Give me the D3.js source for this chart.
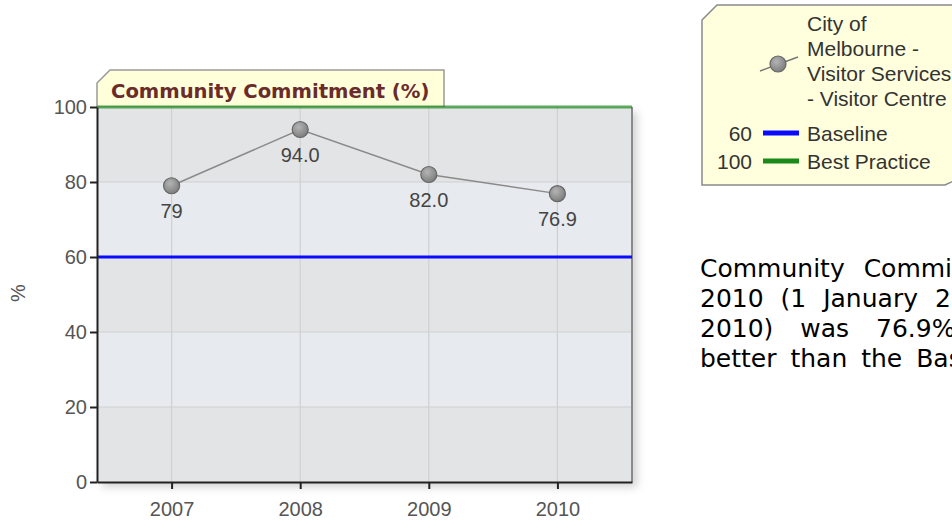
<!DOCTYPE html>
<html>
  <head>
    <meta charset="utf-8">
    <title>Community Commitment (%)</title>
    <script src="https://cdn.jsdelivr.net/npm/d3@7"></script>
    <style>
      body { margin: 0; overflow: hidden; background: #fff; }
      svg { display: block; }
      .axis text { font-family: "Liberation Sans", Arial, sans-serif; font-size: 20px; fill: #555; }
      .axis path, .axis line { stroke: #222; stroke-width: 2; }
    </style>
  </head>
  <body>
    <svg id="chart" width="952" height="521">
      <defs>
        <radialGradient id="ball" cx="40%" cy="35%" r="70%">
          <stop offset="0%" stop-color="#b4b4b4"></stop>
          <stop offset="100%" stop-color="#7a7a7a"></stop>
        </radialGradient>
        <filter id="shadow" x="-5%" y="-5%" width="115%" height="115%">
          <feDropShadow dx="5" dy="5" stdDeviation="4" flood-color="#000" flood-opacity="0.18"></feDropShadow>
        </filter>
      </defs>
    </svg>

    <script>
      // data
      var years = ["2007", "2008", "2009", "2010"];
      var scores = [79, 94.0, 82.0, 76.9];
      var scoreLabels = ["79", "94.0", "82.0", "76.9"];
      var yTicks = [0, 20, 40, 60, 80, 100];
      var targetNames = ["Baseline", "Best Practice"];
      var targetValues = [60, 100];
      var targetColours = ["#0a0aff", "#1a8a1a"];
      var seriesName = ["City of", "Melbourne -", "Visitor Services", "- Visitor Centre"];
      var summary = [
        "Community Commitment score for",
        "2010 (1 January 2010 to 31 December",
        "2010) was 76.9%, which was",
        "better than the Baseline (60%)."
      ];

      // layout
      var plot = { left: 97, right: 632, top: 107, bottom: 482 };
      var justify = [11, 9, 19, 6]; // word gaps of the justified paragraph lines
      var chart = d3.select("#chart");

      var x = d3.scalePoint()
        .domain(years)
        .range([plot.left, plot.right])
        .padding(0.58);
      var y = d3.scaleLinear()
        .domain([0, 100])
        .range([plot.bottom, plot.top]);

      // title tab
      chart.append("path")
        .attr("d", "M" + plot.left + "," + plot.top + "V83L110,70H444V" + plot.top + "Z")
        .attr("fill", "#ffffd9")
        .attr("stroke", "#9a9a9a")
        .attr("stroke-width", 1.5);
      chart.append("text")
        .attr("x", 111)
        .attr("y", 98)
        .attr("font-family", "DejaVu Sans, Verdana, sans-serif")
        .attr("font-weight", "bold")
        .attr("font-size", 19.6)
        .attr("fill", "#6b2b2b")
        .text("Community Commitment (%)");

      // plot background with alternating bands
      chart.append("rect")
        .attr("x", plot.left)
        .attr("y", plot.top)
        .attr("width", plot.right - plot.left)
        .attr("height", plot.bottom - plot.top)
        .attr("fill", "#e3e4e6")
        .attr("filter", "url(#shadow)");
      chart.append("g")
        .selectAll("rect")
        .data(d3.pairs(yTicks))
        .enter().append("rect")
          .attr("x", plot.left)
          .attr("width", plot.right - plot.left)
          .attr("y", function(d) { return y(d[1]); })
          .attr("height", function(d) { return y(d[0]) - y(d[1]); })
          .attr("fill", function(d, i) { return i % 2 ? "#e7eaee" : "#e3e4e6"; });

      // grid
      chart.append("g")
        .selectAll("line")
        .data(yTicks.slice(1, -1))
        .enter().append("line")
          .attr("x1", plot.left)
          .attr("x2", plot.right)
          .attr("y1", function(d) { return y(d); })
          .attr("y2", function(d) { return y(d); })
          .attr("stroke", "#d0d0d0")
          .attr("stroke-width", 1.2);
      chart.append("g")
        .selectAll("line")
        .data(years)
        .enter().append("line")
          .attr("x1", function(d) { return x(d); })
          .attr("x2", function(d) { return x(d); })
          .attr("y1", plot.top)
          .attr("y2", plot.bottom)
          .attr("stroke", "#d0d0d0")
          .attr("stroke-width", 1.2);

      // right border
      chart.append("line")
        .attr("x1", plot.right)
        .attr("x2", plot.right)
        .attr("y1", plot.top)
        .attr("y2", plot.bottom)
        .attr("stroke", "#8a8a8a")
        .attr("stroke-width", 2);

      // target lines
      chart.append("g")
        .selectAll("line")
        .data(targetValues)
        .enter().append("line")
          .attr("x1", plot.left)
          .attr("x2", plot.right)
          .attr("y1", function(d) { return y(d); })
          .attr("y2", function(d) { return y(d); })
          .attr("stroke", function(d, i) { return targetColours[i]; })
          .attr("stroke-opacity", function(d, i) { return i ? 0.7 : 1; })
          .attr("stroke-width", 3);

      // axes
      chart.append("g")
        .attr("class", "axis")
        .attr("transform", "translate(" + plot.left + ",0)")
        .call(d3.axisLeft(y).tickValues(yTicks).tickSize(7).tickSizeOuter(0).tickPadding(3));
      chart.append("g")
        .attr("class", "axis")
        .attr("transform", "translate(0," + plot.bottom + ")")
        .call(d3.axisBottom(x).tickSize(7).tickSizeOuter(0).tickPadding(13));
      chart.append("text")
        .attr("transform", "translate(20,293) rotate(-90)")
        .attr("text-anchor", "middle")
        .attr("dominant-baseline", "middle")
        .attr("font-family", "Liberation Sans, Arial, sans-serif")
        .attr("font-size", 20)
        .attr("fill", "#555")
        .text("%");

      // series
      var line = d3.line()
        .x(function(d, i) { return x(years[i]); })
        .y(function(d) { return y(d); });
      chart.append("path")
        .datum(scores)
        .attr("d", line)
        .attr("fill", "none")
        .attr("stroke", "#8a8a8a")
        .attr("stroke-width", 1.5);
      chart.append("g")
        .selectAll("circle")
        .data(scores)
        .enter().append("circle")
          .attr("cx", function(d, i) { return x(years[i]); })
          .attr("cy", function(d) { return y(d); })
          .attr("r", 8)
          .attr("fill", "url(#ball)")
          .attr("stroke", "#666")
          .attr("stroke-width", 1.2);
      chart.append("g")
        .selectAll("text")
        .data(scores)
        .enter().append("text")
          .attr("x", function(d, i) { return x(years[i]); })
          .attr("y", function(d) { return y(d) + 32; })
          .attr("text-anchor", "middle")
          .attr("font-family", "Liberation Sans, Arial, sans-serif")
          .attr("font-size", 20)
          .attr("fill", "#444")
          .text(function(d, i) { return scoreLabels[i]; });

      // legend
      var legend = chart.append("g");
      legend.append("path")
        .attr("d", "M702,20L717,5H960V178L945,185H702Z")
        .attr("fill", "#ffffdd")
        .attr("stroke", "#8a8a8a")
        .attr("stroke-width", 1.5);
      legend.append("line")
        .attr("x1", 760).attr("y1", 71)
        .attr("x2", 798).attr("y2", 57)
        .attr("stroke", "#777")
        .attr("stroke-width", 1.5);
      legend.append("circle")
        .attr("cx", 778).attr("cy", 64)
        .attr("r", 8)
        .attr("fill", "url(#ball)")
        .attr("stroke", "#666")
        .attr("stroke-width", 1.2);
      legend.selectAll(".series")
        .data(seriesName)
        .enter().append("text")
          .attr("class", "series")
          .attr("x", 807)
          .attr("y", function(d, i) { return 31 + i * 25; })
          .text(function(d) { return d; });
      var target = legend.selectAll(".target")
        .data(targetNames)
        .enter().append("g")
          .attr("class", "target")
          .attr("transform", function(d, i) { return "translate(0," + (141 + i * 28) + ")"; });
      target.append("text")
        .attr("x", 752)
        .attr("text-anchor", "end")
        .text(function(d, i) { return targetValues[i]; });
      target.append("line")
        .attr("x1", 763).attr("x2", 799)
        .attr("y1", -8).attr("y2", -8)
        .attr("stroke", function(d, i) { return targetColours[i]; })
        .attr("stroke-width", 5);
      target.append("text")
        .attr("x", 807)
        .text(function(d) { return d; });
      legend.selectAll("text")
        .attr("font-family", "Liberation Sans, Arial, sans-serif")
        .attr("font-size", 21)
        .attr("fill", "#333");

      // summary paragraph
      chart.append("g")
        .selectAll("text")
        .data(summary)
        .enter().append("text")
          .attr("x", 700)
          .attr("y", function(d, i) { return 277 + i * 30; })
          .attr("font-family", "DejaVu Sans, Verdana, sans-serif")
          .attr("font-size", 25)
          .attr("word-spacing", function(d, i) { return justify[i]; })
          .attr("fill", "#000")
          .text(function(d) { return d; });
    </script>
  </body>
</html>
